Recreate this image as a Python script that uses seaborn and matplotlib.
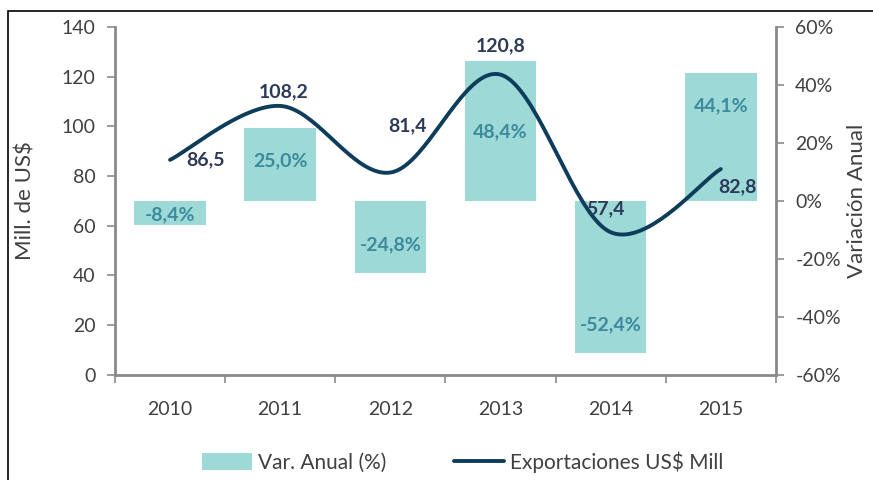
import numpy as np
import pandas as pd
import matplotlib.pyplot as plt
import seaborn as sns
from matplotlib.patches import Patch, Rectangle
from matplotlib.lines import Line2D

# data
years = ["2010", "2011", "2012", "2013", "2014", "2015"]
exports = [86.5, 108.2, 81.4, 120.8, 57.4, 82.8]        # Mill. de US$
var_anual = [-8.4, 25.0, -24.8, 48.4, -52.4, 44.1]     # %

export_lbl = ["86,5", "108,2", "81,4", "120,8", "57,4", "82,8"]
var_lbl = ["-8,4%", "25,0%", "-24,8%", "48,4%", "-52,4%", "44,1%"]

bar_col = "#9dd9d7"
line_col = "#0d3d5a"
txt_col = "#404040"

sns.set_theme(style="white")
plt.rcParams['font.family'] = ['Lato', 'DejaVu Sans']

fig = plt.figure(figsize=(8.73, 4.8), dpi=100)
ax = fig.add_axes([0.1317, 0.219, 0.757, 0.725])
ax2 = ax.twinx()

#%%
# bars on the right axis (variacion anual)
df = pd.DataFrame({"year": years, "var": var_anual})
sns.barplot(data=df, x="year", y="var", ax=ax2, color=bar_col, width=0.65,
            saturation=1, edgecolor="none")
ax2.set_ylim(-60, 60)
ax2.set_yticks(np.arange(-60, 61, 20))
ax2.set_yticklabels([f"{v}%" for v in range(-60, 61, 20)])
ax2.set_ylabel("Variación Anual", fontsize=16, color=txt_col, rotation=90)
ax2.yaxis.set_label_coords(1.108, 0.5)

# bar labels (positions picked to look like the original)
lbl_pos = [-4.9, 14.0, -15.0, 24.0, -42.6, 32.8]
for i, (t, p) in enumerate(zip(var_lbl, lbl_pos)):
    ax2.text(i, p, t, ha="center", va="center", fontsize=14,
             fontweight="bold", color="#3c8a9c")

#%%
# smooth line like excel (bezier with catmull-rom control points)
x = np.arange(len(exports), dtype=float)
y = np.array(exports)
xs, ys = [], []
for i in range(len(x) - 1):
    p0 = np.array([x[max(i - 1, 0)], y[max(i - 1, 0)]])
    p1 = np.array([x[i], y[i]])
    p2 = np.array([x[i + 1], y[i + 1]])
    p3 = np.array([x[min(i + 2, len(x) - 1)], y[min(i + 2, len(x) - 1)]])
    c1 = p1 + (p2 - p0) / 6
    c2 = p2 - (p3 - p1) / 6
    t = np.linspace(0, 1, 40)[:, None]
    pts = (1 - t)**3 * p1 + 3 * (1 - t)**2 * t * c1 + 3 * (1 - t) * t**2 * c2 + t**3 * p2
    xs.extend(pts[:, 0])
    ys.extend(pts[:, 1])
sns.lineplot(x=xs, y=ys, ax=ax, color=line_col, linewidth=2.8, sort=False)

ax.set_ylim(0, 140)
ax.set_yticks(np.arange(0, 141, 20))
ax.set_ylabel("Mill. de US$", fontsize=16, color=txt_col)
ax.yaxis.set_label_coords(-0.12, 0.5)

offs = [(35, 0), (3, 14), (17, 47), (0, 29), (-5, 23), (17, -18)]
for i, (t, o) in enumerate(zip(export_lbl, offs)):
    ax.annotate(t, (i, exports[i]), xytext=o, textcoords="offset pixels",
                ha="center", va="center", fontsize=14, fontweight="bold",
                color="#2c3a58")

ax.set_zorder(ax2.get_zorder() + 1)
ax.patch.set_visible(False)

#%%
# axes look
for a in (ax, ax2):
    a.set_xlim(-0.5, 5.5)
    a.set_xlabel("")
    for s in a.spines.values():
        s.set_visible(False)
    a.grid(False)

ax.spines["left"].set_visible(True)
ax.spines["bottom"].set_visible(True)
ax2.spines["right"].set_visible(True)
for s in (ax.spines["left"], ax.spines["bottom"], ax2.spines["right"]):
    s.set_color("#8a8a8a")
    s.set_linewidth(2)

ax.set_xticks(np.arange(-0.5, 5.6, 1))
ax.set_xticklabels([])
ax.set_xticks(np.arange(6), minor=True)
ax.set_xticklabels(years, minor=True)
ax.tick_params(axis="x", which="major", bottom=True, length=6, width=1.2,
               color="#8a8a8a")
ax.tick_params(axis="x", which="minor", bottom=False, labelsize=14,
               labelcolor=txt_col, pad=15)
ax.tick_params(axis="y", left=True, length=6, width=1.2, color="#8a8a8a",
               labelsize=14, labelcolor=txt_col, pad=8)
ax2.tick_params(axis="y", right=True, length=6, width=1.2, color="#8a8a8a",
                labelsize=14, labelcolor=txt_col, pad=8)
ax2.tick_params(axis="x", bottom=False, labelbottom=False)

#%%
handles = [Patch(facecolor=bar_col, edgecolor="none", label="Var. Anual (%)"),
           Line2D([0], [0], color=line_col, lw=2.8, label="Exportaciones US$ Mill")]
leg = fig.legend(handles=handles, loc="center", bbox_to_anchor=(0.53, 0.038),
                 ncol=2, frameon=False, fontsize=15, handlelength=2.4,
                 handleheight=0.9, columnspacing=3.2, handletextpad=0.3)
for t in leg.get_texts():
    t.set_color(txt_col)

# frame around the picture (cropped like the original)
fig.add_artist(Rectangle((8 / 873, -0.1), 1.2, 1.1 - 11 / 480,
                         transform=fig.transFigure, fill=False,
                         edgecolor="black", linewidth=1.2))

fig.savefig("out.png", dpi=100)
